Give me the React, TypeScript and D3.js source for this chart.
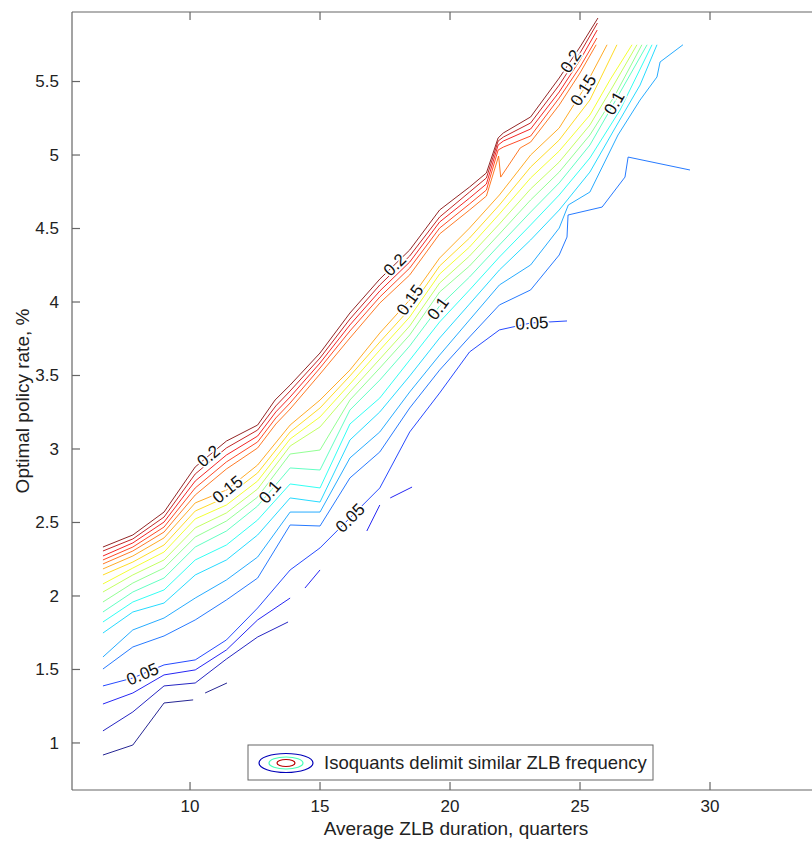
import React from "react";
import * as d3 from "d3";

type P = [number, number] | null;

// contour levels (ZLB frequency)
const levels = [0.02, 0.03, 0.04, 0.05, 0.06, 0.07, 0.08, 0.09, 0.1, 0.11, 0.12, 0.13, 0.14, 0.15, 0.16, 0.17, 0.18, 0.19, 0.2];

// isoquants: [average ZLB duration (quarters), optimal policy rate (%)]
const iso002: P[] = [[6.65,0.918],[7.8,0.986],[9.0,1.272],[10.12,1.293],null,[10.58,1.340],[11.42,1.408]];
const iso003: P[] = [[6.65,1.082],[7.8,1.211],[9.0,1.388],[10.2,1.408],[11.4,1.571],[12.6,1.721],[13.77,1.823]];
const iso004: P[] = [[6.65,1.265],[7.8,1.340],[9.0,1.463],[10.2,1.497],[11.4,1.633],[12.6,1.837],[13.85,1.986],null,[14.42,2.054],[15.0,2.177],null,[16.8,2.442],[17.3,2.619],null,[17.7,2.667],[18.54,2.741]];
const iso005: P[] = [[6.65,1.388],[7.8,1.442],[9.0,1.531],[10.2,1.565],[11.4,1.701],[12.6,1.918],[13.85,2.177],[15.0,2.327],[16.15,2.531],[17.3,2.735],[18.45,3.116],[19.6,3.381],[20.75,3.660],[21.9,3.810],[23.1,3.857],[24.5,3.871]];
const iso006: P[] = [[6.65,1.503],[7.8,1.653],[9.0,1.728],[10.2,1.837],[11.4,1.973],[12.6,2.122],[13.85,2.483],[15.0,2.476],[16.15,2.803],[17.3,2.980],[18.45,3.279],[19.6,3.537],[20.75,3.762],[21.9,3.980],[23.1,4.082],[24.2,4.320],[24.5,4.442],[24.54,4.592],[25.85,4.646],[26.73,4.850],[26.85,4.986],[29.23,4.898]];
const iso007: P[] = [[6.65,1.585],[7.8,1.769],[9.0,1.850],[10.2,1.986],[11.4,2.109],[12.6,2.265],[13.85,2.571],[15.0,2.571],[16.15,2.939],[17.3,3.116],[18.45,3.388],[19.6,3.639],[20.75,3.878],[21.9,4.116],[23.1,4.252],[24.2,4.503],[24.55,4.660],[25.38,4.748],[26.46,5.136],[27.31,5.374],[27.96,5.531],[28.08,5.633],[28.96,5.75]];
const iso008: P[] = [[6.65,1.748],[7.8,1.891],[9.0,1.952],[10.2,2.143],[11.4,2.245],[12.6,2.415],[13.85,2.667],[15.0,2.639],[16.15,3.061],[17.3,3.252],[18.45,3.497],[19.6,3.755],[20.75,3.986],[21.9,4.218],[23.1,4.422],[24.2,4.626],[25.38,4.884],[26.35,5.184],[27.31,5.476],[27.96,5.75]];
const iso009: P[] = [[6.65,1.823],[7.8,1.959],[9.0,2.041],[10.2,2.245],[11.4,2.347],[12.6,2.517],[13.85,2.762],[15.0,2.735],[16.15,3.170],[17.3,3.347],[18.45,3.605],[19.6,3.864],[20.75,4.082],[21.9,4.306],[23.1,4.524],[24.2,4.728],[25.38,4.980],[26.54,5.306],[27.77,5.75]];
const iso010: P[] = [[6.65,1.891],[7.8,2.027],[9.0,2.122],[10.2,2.333],[11.4,2.442],[12.6,2.612],[13.85,2.871],[15.0,2.857],[16.15,3.265],[17.3,3.469],[18.45,3.701],[19.6,3.973],[20.75,4.170],[21.9,4.388],[23.1,4.612],[24.2,4.810],[25.38,5.068],[26.31,5.354],[27.58,5.75]];
const iso011: P[] = [[6.65,1.959],[7.8,2.088],[9.0,2.190],[10.2,2.401],[11.4,2.510],[12.6,2.673],[13.85,2.966],[15.0,2.993],[16.15,3.333],[17.3,3.551],[18.45,3.776],[19.6,4.068],[20.75,4.245],[21.9,4.463],[23.1,4.694],[24.2,4.884],[25.38,5.136],[26.35,5.408],[27.38,5.75]];
const iso012: P[] = [[6.65,2.027],[7.8,2.143],[9.0,2.245],[10.2,2.463],[11.4,2.565],[12.6,2.728],[13.85,3.020],[15.0,3.150],[16.15,3.388],[17.3,3.612],[18.45,3.837],[19.6,4.129],[20.75,4.313],[21.9,4.531],[23.1,4.769],[24.2,4.952],[25.38,5.204],[26.23,5.456],[27.19,5.75]];
const iso013: P[] = [[6.65,2.082],[7.8,2.190],[9.0,2.299],[10.2,2.524],[11.4,2.619],[12.6,2.782],[13.85,3.068],[15.0,3.218],[16.15,3.442],[17.3,3.673],[18.45,3.898],[19.6,4.190],[20.75,4.374],[21.9,4.599],[23.1,4.844],[24.2,5.027],[25.38,5.272],[26.15,5.510],[27.0,5.75]];
const iso014: P[] = [[6.65,2.143],[7.8,2.231],[9.0,2.347],[10.2,2.578],[11.4,2.673],[12.6,2.837],[13.85,3.116],[15.0,3.279],[16.15,3.497],[17.3,3.728],[18.45,3.952],[19.6,4.245],[20.75,4.435],[21.9,4.660],[23.1,4.918],[24.2,5.102],[25.38,5.374],[26.42,5.75]];
const iso015: P[] = [[6.65,2.184],[7.8,2.272],[9.0,2.395],[10.2,2.633],[11.4,2.721],[12.6,2.891],[13.85,3.163],[15.0,3.333],[16.15,3.537],[17.3,3.789],[18.45,4.014],[19.6,4.299],[20.75,4.503],[21.9,4.728],[23.1,5.000],[24.2,5.184],[25.12,5.442],[26.04,5.75]];
const iso016: P[] = [[6.65,2.218],[7.8,2.306],[9.0,2.435],[10.2,2.687],[11.4,2.864],[12.6,3.007],[13.3,3.170],[13.85,3.272],[15.0,3.510],[16.15,3.755],[17.3,3.993],[18.45,4.184],[19.6,4.463],[20.75,4.626],[21.4,4.721],[21.87,4.993],[21.95,4.850],[22.7,5.048],[23.1,5.088],[24.2,5.340],[25.0,5.558],[25.62,5.75]];
const iso017: P[] = [[6.65,2.245],[7.8,2.333],[9.0,2.469],[10.2,2.735],[11.4,2.912],[12.6,3.048],[13.3,3.211],[13.85,3.313],[15.0,3.551],[16.15,3.803],[17.3,4.034],[18.45,4.231],[19.6,4.503],[20.75,4.667],[21.4,4.762],[21.85,5.034],[22.05,5.054],[23.1,5.129],[24.2,5.388],[25.0,5.599],[25.65,5.796]];
const iso018: P[] = [[6.65,2.272],[7.8,2.361],[9.0,2.503],[10.2,2.782],[11.4,2.959],[12.6,3.088],[13.3,3.252],[13.85,3.354],[15.0,3.585],[16.15,3.844],[17.3,4.075],[18.45,4.272],[19.6,4.544],[20.75,4.707],[21.4,4.803],[21.85,5.068],[22.05,5.095],[23.1,5.177],[24.2,5.429],[25.0,5.646],[25.66,5.850]];
const iso019: P[] = [[6.65,2.306],[7.8,2.388],[9.0,2.537],[10.2,2.830],[11.4,3.007],[12.6,3.129],[13.3,3.293],[13.85,3.395],[15.0,3.619],[16.15,3.884],[17.3,4.116],[18.45,4.313],[19.6,4.578],[20.75,4.748],[21.4,4.844],[21.85,5.095],[22.05,5.122],[23.1,5.218],[24.2,5.476],[25.0,5.694],[25.67,5.898]];
const iso020: P[] = [[6.65,2.333],[7.8,2.415],[9.0,2.571],[10.2,2.878],[11.4,3.054],[12.6,3.163],[13.27,3.333],[13.85,3.435],[15.0,3.653],[16.15,3.925],[17.3,4.156],[18.45,4.354],[19.6,4.626],[20.75,4.782],[21.4,4.878],[21.85,5.116],[22.05,5.150],[23.1,5.259],[24.2,5.524],[25.0,5.735],[25.69,5.932]];

const isoquants: P[][] = [iso002, iso003, iso004, iso005, iso006, iso007, iso008, iso009, iso010, iso011, iso012, iso013, iso014, iso015, iso016, iso017, iso018, iso019, iso020];

// inline contour labels: level and approximate position
const labelLevels = [0.2, 0.2, 0.2, 0.15, 0.15, 0.15, 0.1, 0.1, 0.1, 0.05, 0.05, 0.05];
const labelSpots: [number, number][] = [[10.77,2.939],[17.96,4.238],[24.69,5.633],[11.46,2.721],[18.46,4.014],[25.12,5.442],[13.08,2.707],[19.62,3.946],[26.31,5.354],[8.35,1.395],[16.15,2.531],[23.15,3.857]];

const xTicks = [10, 15, 20, 25, 30];
const yTicks = [1, 1.5, 2, 2.5, 3, 3.5, 4, 4.5, 5, 5.5];
const xDomain: [number, number] = [5.46, 35];
const yDomain: [number, number] = [0.68, 5.973];

const W = 812, H = 841;
const L = 72, T = 12, B = 790, R = 840;
const FONT = "'Liberation Sans', Arial, Helvetica, sans-serif";

function jet(t: number) {
  const c = (v: number) => Math.max(0, Math.min(1, v));
  const r = c(1.5 - Math.abs(4 * t - 3));
  const g = c(1.5 - Math.abs(4 * t - 2));
  const b = c(1.5 - Math.abs(4 * t - 1));
  return d3.rgb(r * 255, g * 255, b * 255).formatHex();
}

export default function App() {
  const x = d3.scaleLinear().domain(xDomain).range([L, R]);
  const y = d3.scaleLinear().domain(yDomain).range([B, T]);
  const color = (v: number) => jet((v - levels[0]) / (levels[levels.length - 1] - levels[0]));
  const line = d3
    .line<P>()
    .defined((d) => d !== null)
    .x((d) => x((d as [number, number])[0]))
    .y((d) => y((d as [number, number])[1]));

  const labels = labelSpots.map((s, i) => {
    const lv = labelLevels[i];
    const idx = levels.findIndex((l) => Math.abs(l - lv) < 1e-9);
    const pts = isoquants[idx];
    const px = x(s[0]), py = y(s[1]);
    let best = { d: Infinity, x: px, y: py, a: 0 };
    for (let k = 0; k < pts.length - 1; k++) {
      const p = pts[k], q = pts[k + 1];
      if (!p || !q) continue;
      const ax = x(p[0]), ay = y(p[1]), bx = x(q[0]), by = y(q[1]);
      const dx = bx - ax, dy = by - ay;
      const len2 = dx * dx + dy * dy || 1;
      let t = ((px - ax) * dx + (py - ay) * dy) / len2;
      t = Math.max(0, Math.min(1, t));
      const cx = ax + t * dx, cy = ay + t * dy;
      const d = Math.hypot(px - cx, py - cy);
      if (d < best.d) {
        let a = (Math.atan2(dy, dx) * 180) / Math.PI;
        if (a > 90) a -= 180;
        if (a < -90) a += 180;
        best = { d, x: cx, y: cy, a };
      }
    }
    return { text: String(lv), ...best };
  });

  return (
    <svg width={W} height={H} style={{ position: "absolute", left: 0, top: 0, background: "#fff" }} fontFamily={FONT}>
      <defs>
        <clipPath id="plotClip">
          <rect x={L} y={T} width={R - L} height={B - T} />
        </clipPath>
      </defs>
      <rect x={0} y={0} width={W} height={H} fill="#fff" />
      <g clipPath="url(#plotClip)">
        {isoquants.map((pts, i) => (
          <path key={i} d={line(pts) || ""} fill="none" stroke={color(levels[i])} strokeOpacity={0.85} strokeWidth={1} strokeLinejoin="round" />
        ))}
        {labels.map((lb, i) => (
          <text
            key={i}
            x={lb.x}
            y={lb.y}
            transform={`rotate(${lb.a},${lb.x},${lb.y})`}
            textAnchor="middle"
            dy="0.35em"
            fontSize={17}
            fill="#111"
            stroke="#fff"
            strokeWidth={3}
            paintOrder="stroke"
          >
            {lb.text}
          </text>
        ))}
      </g>
      {/* axes box */}
      <g stroke="#666" strokeWidth={1.2} fill="none">
        <line x1={L} y1={T} x2={R} y2={T} />
        <line x1={L} y1={B} x2={R} y2={B} />
        <line x1={L} y1={T} x2={L} y2={B} />
        <line x1={R} y1={T} x2={R} y2={B} />
        {xTicks.map((t) => (
          <g key={t}>
            <line x1={x(t)} y1={B} x2={x(t)} y2={B - 8} />
            <line x1={x(t)} y1={T} x2={x(t)} y2={T + 8} />
          </g>
        ))}
        {yTicks.map((t) => (
          <g key={t}>
            <line x1={L} y1={y(t)} x2={L + 8} y2={y(t)} />
            <line x1={R} y1={y(t)} x2={R - 8} y2={y(t)} />
          </g>
        ))}
      </g>
      <g fill="#222" fontSize={17}>
        {xTicks.map((t) => (
          <text key={t} x={x(t)} y={812} textAnchor="middle">
            {t}
          </text>
        ))}
        {yTicks.map((t) => (
          <text key={t} x={59} y={y(t)} dy="0.35em" textAnchor="end">
            {t}
          </text>
        ))}
        <text x={(L + R) / 2} y={835} textAnchor="middle" fontSize={19}>
          Average ZLB duration, quarters
        </text>
        <text transform={`translate(22,${(T + B) / 2}) rotate(-90)`} textAnchor="middle" dy="0.35em" fontSize={19}>
          Optimal policy rate, %
        </text>
      </g>
      {/* legend */}
      <g>
        <rect x={248} y={745} width={405} height={35} fill="#fff" stroke="#666" strokeWidth={1} />
        <ellipse cx={286} cy={763} rx={27} ry={9.5} fill="none" stroke={color(0.03)} strokeWidth={1.2} />
        <ellipse cx={286} cy={763} rx={17} ry={6} fill="none" stroke={color(0.1)} strokeWidth={1.2} />
        <ellipse cx={286} cy={763} rx={9} ry={3.5} fill="none" stroke={color(0.19)} strokeWidth={1.2} />
        <text x={324} y={769} fontSize={18.5} fill="#222">
          Isoquants delimit similar ZLB frequency
        </text>
      </g>
    </svg>
  );
}
